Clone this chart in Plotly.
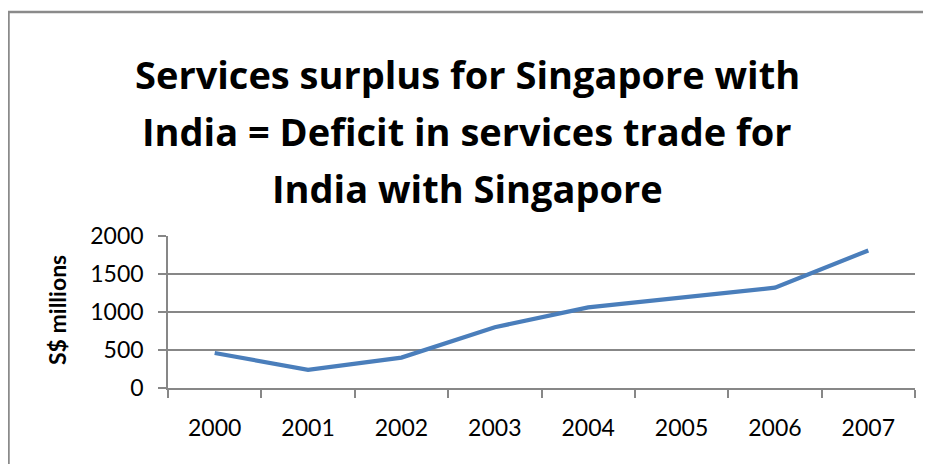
import plotly.graph_objects as go

years = ["2000", "2001", "2002", "2003", "2004", "2005", "2006", "2007"]
surplus = [460, 240, 400, 800, 1060, 1185, 1320, 1810]
y_ticks = [0, 500, 1000, 1500, 2000]
title_lines = [
    "Services surplus for Singapore with",
    "India = Deficit in services trade for",
    "India with Singapore",
]
y_title = "S$ millions"

# page body has an 8px margin; work in screen pixels and convert
OFF = 8
W, H = 931 - OFF, 464 - OFF
L, R, T, B = 168 - OFF, 16, 236 - OFF, 76
PW, PH = W - L - R, H - T - B

def px(x):
    return (x - OFF - L) / PW

def py(y):
    return (H - B - (y - OFF)) / PH

GRID = "#878787"
FONT = "Lato"
TFONT = "Open Sans"

fig = go.Figure()
fig.add_trace(go.Scatter(
    x=years, y=surplus, mode="lines",
    line=dict(color="#4A7EBB", width=4.2),
    hoverinfo="x+y", showlegend=False,
))

annotations = []
for txt, yc in zip(title_lines, [74, 131, 188]):
    annotations.append(dict(
        text="<b>" + txt + "</b>", xref="paper", yref="paper",
        x=px(467), y=py(yc), xanchor="center", yanchor="middle",
        showarrow=False, font=dict(family=TFONT, size=38, color="#000000"),
    ))
annotations.append(dict(
    text="<b>" + y_title + "</b>", xref="paper", yref="paper",
    x=px(57), y=py(310), xanchor="center", yanchor="middle", textangle=-90,
    showarrow=False, font=dict(family=FONT, size=23, color="#000000"),
))

shapes = [
    dict(type="line", xref="paper", yref="paper", x0=px(7), x1=px(940), y0=py(12), y1=py(12),
         line=dict(color="#8a8a8a", width=2.5)),
    dict(type="line", xref="paper", yref="paper", x0=px(8.5), x1=px(8.5), y0=py(12), y1=py(470),
         line=dict(color="#8a8a8a", width=2.5)),
]

fig.update_layout(
    width=W, height=H,
    margin=dict(l=L, r=R, t=T, b=B, pad=0),
    paper_bgcolor="white", plot_bgcolor="white",
    font=dict(family=FONT, color="#000000"),
    annotations=annotations, shapes=shapes,
    showlegend=False,
)
fig.update_xaxes(
    type="category", range=[-0.5, 7.5],
    tickson="boundaries", ticks="outside", ticklen=8, tickcolor=GRID, tickwidth=1.5,
    showline=True, linecolor=GRID, linewidth=1.5,
    showgrid=False, zeroline=False,
    tickfont=dict(family=FONT, size=23, color="#000000"),
    ticklabelstandoff=19,
)
fig.update_yaxes(
    range=[0, 2000], tickvals=y_ticks, ticktext=[str(v) for v in y_ticks],
    ticks="outside", ticklen=8, tickcolor=GRID, tickwidth=1.5,
    showline=True, linecolor=GRID, linewidth=1.5,
    showgrid=True, gridcolor=GRID, gridwidth=1.5, zeroline=False,
    tickfont=dict(family=FONT, size=23, color="#000000"),
    ticklabelstandoff=10,
)

fig.write_html("out.html")
